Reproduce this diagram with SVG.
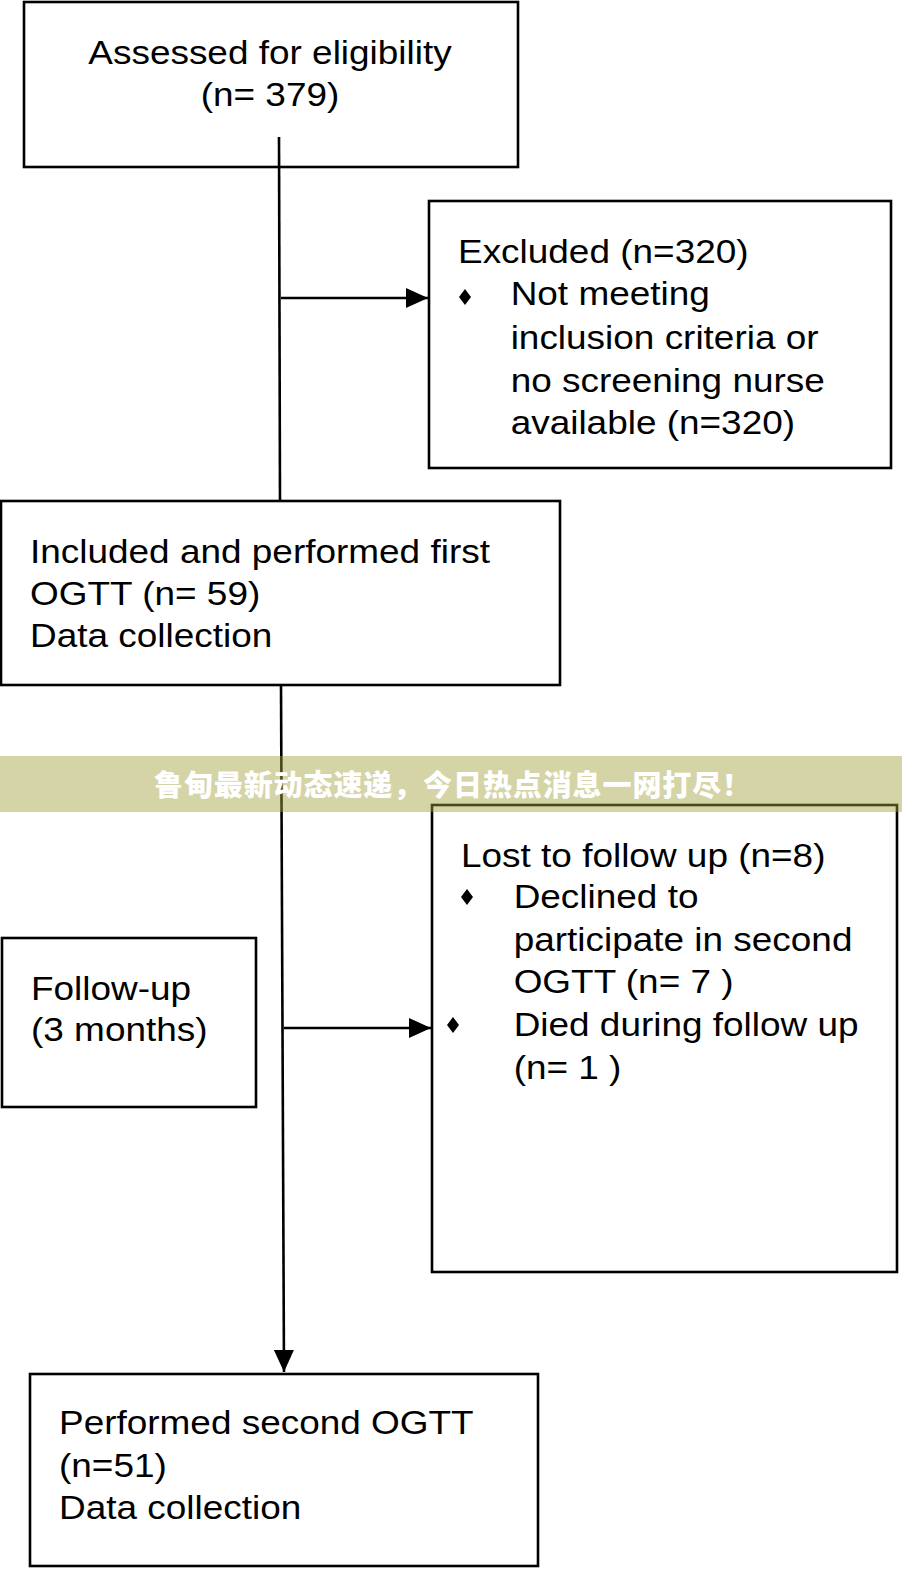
<svg xmlns="http://www.w3.org/2000/svg" width="902" height="1570" viewBox="0 0 902 1570">
<style>
.box{fill:#fff;stroke:#000;stroke-width:2.6}
.t{font-family:"Liberation Sans",Arial,sans-serif;font-size:33px;fill:#000}
.ln{stroke:#000;stroke-width:2.6;fill:none}
.bul{fill:#000}
</style>
<defs>
<marker id="ah" viewBox="0 0 22 20" refX="22" refY="10" markerWidth="22" markerHeight="20" markerUnits="userSpaceOnUse" orient="auto">
<path d="M0,0 L22,10 L0,20 z" fill="#000"/>
</marker>
</defs>
<rect width="902" height="1570" fill="#fff"/>

<g id="n1">
<rect class="box" x="24" y="2" width="494" height="165"/>
<text class="t" text-anchor="middle" transform="matrix(1.12 0 0 1 270 63.5)"><tspan x="0" y="0">Assessed for eligibility</tspan><tspan x="0" y="43">(n= 379)</tspan></text>
</g>

<g id="n2">
<rect class="box" x="429" y="201" width="462" height="267"/>
<text class="t" transform="matrix(1.12 0 0 1 458 262.5)"><tspan x="0" y="0">Excluded (n=320)</tspan><tspan x="47" y="43">Not meeting</tspan><tspan x="47" y="87">inclusion criteria or</tspan><tspan x="47" y="130">no screening nurse</tspan><tspan x="47" y="172">available (n=320)</tspan></text>
<polygon class="bul" points="465,289 471,297 465,305 459,297"/>
</g>

<g id="n3">
<rect class="box" x="1" y="501" width="559" height="184"/>
<text class="t" transform="matrix(1.12 0 0 1 30 562.5)"><tspan x="0" y="0">Included and performed first</tspan><tspan x="0" y="43">OGTT (n= 59)</tspan><tspan x="0" y="85">Data collection</tspan></text>
</g>

<g id="n4">
<rect class="box" x="432" y="805" width="465" height="467"/>
<text class="t" transform="matrix(1.12 0 0 1 461 866.5)"><tspan x="0" y="0">Lost to follow up (n=8)</tspan><tspan x="47" y="42">Declined to</tspan><tspan x="47" y="85">participate in second</tspan><tspan x="47" y="127">OGTT (n= 7 )</tspan><tspan x="47" y="170">Died during follow up</tspan><tspan x="47" y="213">(n= 1 )</tspan></text>
<polygon class="bul" points="467,889 473,897 467,905 461,897"/>
<polygon class="bul" points="453,1017 459,1025 453,1033 447,1025"/>
</g>

<g id="n5">
<rect class="box" x="2" y="938" width="254" height="169"/>
<text class="t" transform="matrix(1.12 0 0 1 31 999.5)"><tspan x="0" y="0">Follow-up</tspan><tspan x="0" y="42">(3 months)</tspan></text>
</g>

<g id="n6">
<rect class="box" x="30" y="1374" width="508" height="192"/>
<text class="t" transform="matrix(1.12 0 0 1 59 1433.5)"><tspan x="0" y="0">Performed second OGTT</tspan><tspan x="0" y="44">(n=51)</tspan><tspan x="0" y="86">Data collection</tspan></text>
</g>

<g id="connectors">
<line class="ln" x1="279" y1="137" x2="280" y2="501"/>
<line class="ln" x1="281" y1="298" x2="428" y2="298" marker-end="url(#ah)"/>
<line class="ln" x1="281" y1="685" x2="284" y2="1372" marker-end="url(#ah)"/>
<line class="ln" x1="284" y1="1028" x2="431" y2="1028" marker-end="url(#ah)"/>
</g>

<g id="banner">
<rect x="0" y="756" width="902" height="56" fill="rgb(160,160,60)" fill-opacity="0.45"/>
<text x="453" y="796" text-anchor="middle" font-family="'Noto Sans CJK SC','Noto Sans CJK JP',sans-serif" font-size="29" letter-spacing="0.9" font-weight="900" fill="#fff">鲁甸最新动态速递，今日热点消息一网打尽！</text>
</g>
</svg>
